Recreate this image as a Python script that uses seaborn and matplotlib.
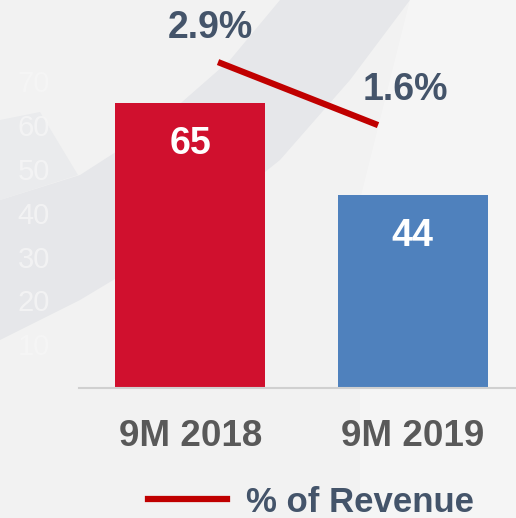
import numpy as np
import pandas as pd
import matplotlib.pyplot as plt
import seaborn as sns
from matplotlib.patches import Polygon
from matplotlib.lines import Line2D

periods = ['9M 2018', '9M 2019']
values = [65, 44]
pct_revenue = [2.9, 1.6]
bar_colors = ['#D0102E', '#4F81BD']
yticks = [10, 20, 30, 40, 50, 60, 70]

plt.rcParams['font.family'] = ['Liberation Sans', 'DejaVu Sans']

fig = plt.figure(figsize=(5.16, 5.18), dpi=100)
fig.patch.set_facecolor('#F2F2F2')

# background swooshes, drawn in pixel coords on a bottom axes
W, H = 516, 518
bg = fig.add_axes([0, 0, 1, 1], zorder=0)
bg.set_xlim(0, W)
bg.set_ylim(H, 0)
bg.axis('off')
band = [(280, 0), (410, 0), (350, 80), (280, 160), (180, 240), (80, 300), (0, 340),
        (0, 200), (80, 175), (150, 130), (230, 60)]
bg.add_patch(Polygon(band, closed=True, facecolor='#E6E7EA', edgecolor='none'))
check = [(0, 120), (40, 112), (78, 175), (0, 200)]
bg.add_patch(Polygon(check, closed=True, facecolor='#EAEBED', edgecolor='none'))
light = [(410, 0), (516, 0), (516, 518), (360, 518), (360, 200)]
bg.add_patch(Polygon(light, closed=True, facecolor='#F7F7F7', edgecolor='none', alpha=0.8))

# main bar axes
ax = fig.add_axes([79 / W, 1 - 388 / H, (W - 79) / W, 388 / H], zorder=1)
ax.patch.set_alpha(0)
df = pd.DataFrame({'period': periods, 'value': values})
sns.barplot(data=df, x='period', y='value', hue='period', palette=bar_colors,
            width=0.675, saturation=1, legend=False, ax=ax)
ax.set_xlim(-0.5, 1.464)
ax.set_ylim(0, 88.6)
ax.set_yticks(yticks)
ax.set_yticklabels([str(t) for t in yticks], fontsize=21, color='#F6F6F6', alpha=0.8)
ax.tick_params(axis='y', length=0, pad=21)
ax.tick_params(axis='x', length=0, pad=22)
ax.set_xticks(range(len(periods)))
ax.set_xticklabels(periods, fontsize=26.5, fontweight='bold', color='#595959')
ax.set_xlabel('')
ax.set_ylabel('')
for s in ['top', 'right', 'left']:
    ax.spines[s].set_visible(False)
ax.spines['bottom'].set_color('#D0D0D0')
ax.spines['bottom'].set_linewidth(1.5)
for i, v in enumerate(values):
    ax.text(i, v - 9.2, str(v), ha='center', va='center', fontsize=27,
            fontweight='bold', color='white')

# % of revenue line on its own overlay axes
ax2 = fig.add_axes(ax.get_position(), zorder=2)
ax2.patch.set_alpha(0)
ax2.plot(range(len(pct_revenue)), pct_revenue, color='#C00000', lw=4.5,
         solid_capstyle='butt')
ax2.set_xlim(-0.869, 1.8625)
ax2.set_ylim(-3.82, 4.18)
ax2.axis('off')
ax2.text(-0.05, pct_revenue[0] + 0.7, f'{pct_revenue[0]}%', ha='center', va='center',
         fontsize=27, fontweight='bold', color='#44546A')
ax2.text(1.17, pct_revenue[1] + 0.72, f'{pct_revenue[1]}%', ha='center', va='center',
         fontsize=27, fontweight='bold', color='#44546A')

handle = Line2D([], [], color='#C00000', lw=4.5)
fig.legend([handle], ['% of Revenue'], loc='center', bbox_to_anchor=(311 / W, 1 - 502 / H),
           frameon=False, labelcolor='#44546A', handlelength=2.3, handletextpad=0.55,
           prop={'weight': 'bold', 'size': 25})

fig.savefig('out.png', dpi=100, facecolor=fig.get_facecolor())
